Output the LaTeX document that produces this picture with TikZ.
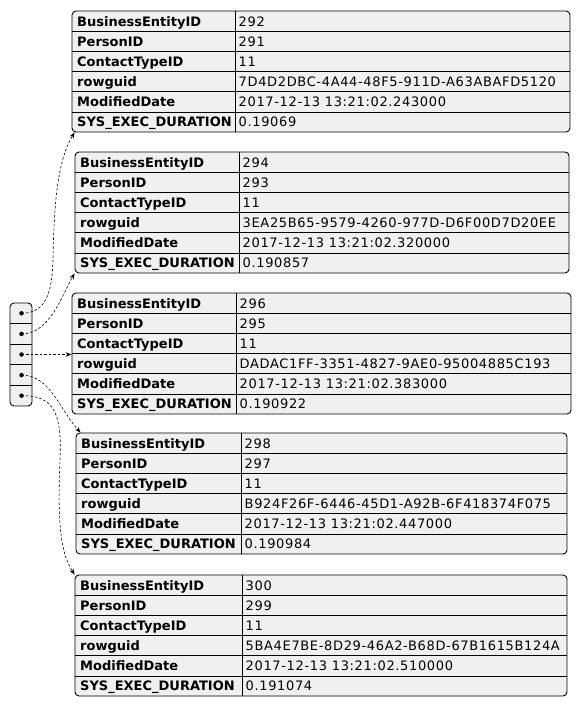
\documentclass[tikz,border=0pt]{standalone}
\usepackage{fontspec}
\setmainfont{DejaVu Sans}
\newfontfamily\valfont[LetterSpace=5]{DejaVu Sans}
\usepackage{tikz}
\usetikzlibrary{arrows.meta, positioning, fit, calc}
\tikzset{%
	record/.style={draw, line width=0.9pt, rounded corners=4pt, fill=gray!12, inner sep=0pt},
	rowline/.style={line width=0.7pt},
	fieldkey/.style={anchor=base west, inner sep=0pt, font=\fontsize{13}{15}\selectfont\bfseries},
	fieldval/.style={anchor=base west, inner sep=0pt, font=\fontsize{13}{15}\selectfont\valfont},
	ptrarray/.style={draw, line width=0.9pt, rounded corners=4pt, fill=gray!12, inner sep=0pt},
	dot/.style={circle, fill=black, minimum size=4.5pt, inner sep=0pt},
	ptr/.style={-{Stealth[length=6pt,width=4.5pt]}, dash pattern=on 2.5pt off 2pt, line width=0.6pt}
}
\newcommand{\rowh}{20.17}
% #1 name, #2 left, #3 top, #4 divider, #5 right, #6 values
\newcommand{\dbrecord}[6]{%
	\node[record, fit={(#2,#3) (#5,#3+121)}] (#1) {};
	\foreach \r in {1,...,5}
		\draw[rowline] (#2,#3+\r*\rowh) -- (#5,#3+\r*\rowh);
	\draw[rowline] (#4,#3) -- (#4,#3+121);
	\foreach \fld [count=\i] in {BusinessEntityID, PersonID, ContactTypeID, rowguid, ModifiedDate, SYS\_EXEC\_DURATION}
		\node[fieldkey] (#1-k\i) at (#2+5,#3+\i*\rowh-0.5*\rowh+5) {\fld};
	\foreach \val [count=\i] in {#6}
		\node[fieldval] (#1-v\i) at (#4+3.5,#3+\i*\rowh-0.5*\rowh+5) {\val};
}
\begin{document}
\begin{tikzpicture}[x=1pt, y=-1pt]
	\useasboundingbox (0,0) rectangle (582,707);

	\dbrecord{rec1}{72}{11}{235}{570}{292, 291, 11, 7D4D2DBC-4A44-48F5-911D-A63ABAFD5120, 2017-12-13 13:21:02.243000, 0.19069}
	\dbrecord{rec2}{75}{152}{239}{569}{294, 293, 11, 3EA25B65-9579-4260-977D-D6F00D7D20EE, 2017-12-13 13:21:02.320000, 0.190857}
	\dbrecord{rec3}{72}{293}{236}{571}{296, 295, 11, DADAC1FF-3351-4827-9AE0-95004885C193, 2017-12-13 13:21:02.383000, 0.190922}
	\dbrecord{rec4}{76}{433}{241}{567}{298, 297, 11, B924F26F-6446-45D1-A92B-6F418374F075, 2017-12-13 13:21:02.447000, 0.190984}
	\dbrecord{rec5}{75}{575}{242}{567}{300, 299, 11, 5BA4E7BE-8D29-46A2-B68D-67B1615B124A, 2017-12-13 13:21:02.510000, 0.191074}

	% list of pointers
	\node[ptrarray, fit={(10,303) (32,406)}] (arr) {};
	\foreach \i in {1,...,4}
		\draw[rowline] (10,303+\i*20.6) -- (32,303+\i*20.6);
	\foreach \i in {1,...,5}
		\node[dot] (d\i) at (21.5,303+\i*20.6-10.3) {};

	\draw[ptr] (d1.center) .. controls (45,313) and (52,295) .. (53,260)
		.. controls (54,200) and (58,160) .. ([xshift=3pt]rec1.south west);
	\draw[ptr] (d2.center) .. controls (50,334) and (62,295) .. (rec2.south west);
	\draw[ptr] (d3.center) -- (d3 -| rec3.west);
	\draw[ptr] (d4.center) .. controls (50,375) and (60,410) .. ([xshift=5pt]rec4.north west);
	\draw[ptr] (d5.center) .. controls (55,395) and (62,415) .. (60,460)
		.. controls (57,530) and (62,555) .. (rec5.north west);
\end{tikzpicture}
\end{document}
